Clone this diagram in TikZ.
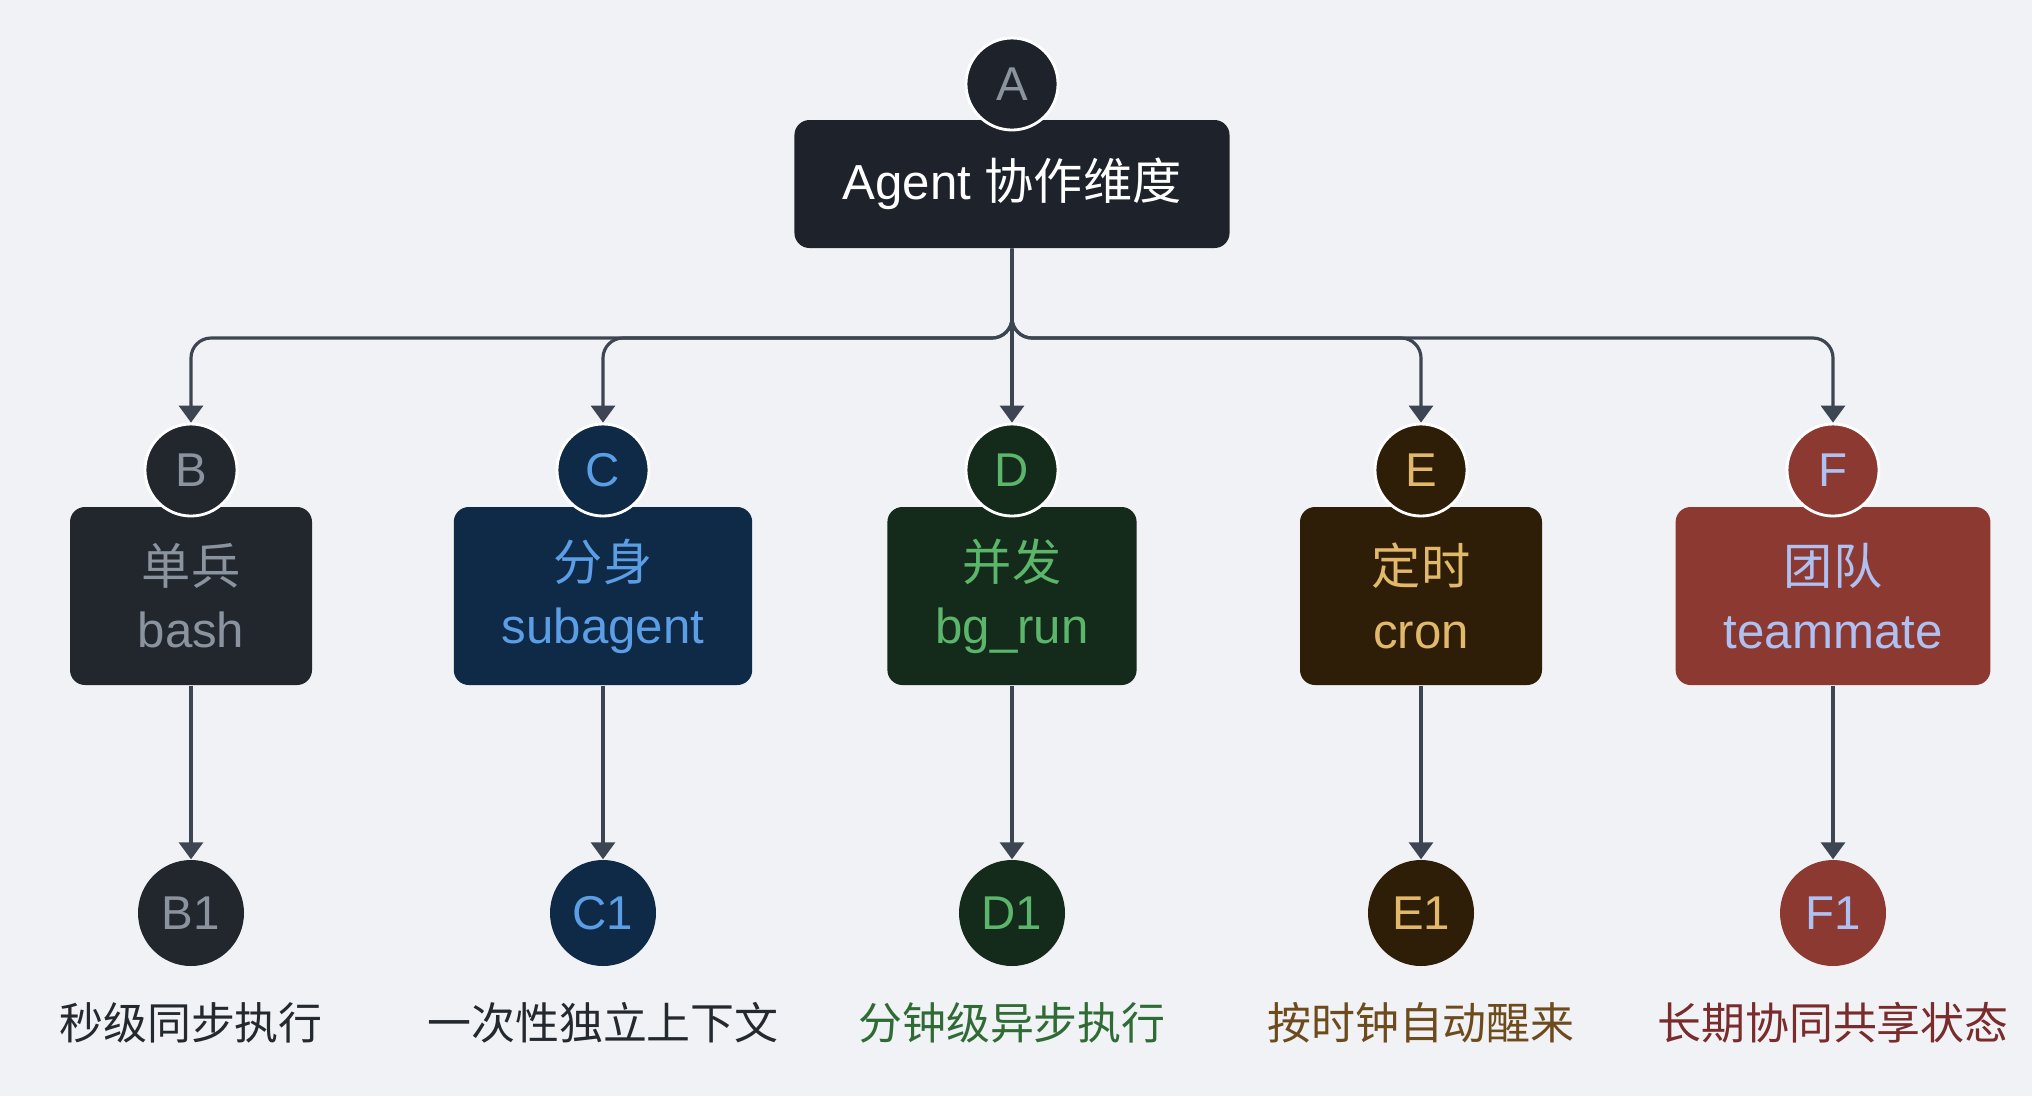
\documentclass[tikz,border=0pt]{standalone}
\usepackage{fontspec}
\setmainfont{Liberation Sans}
\newfontfamily\cjk{Noto Sans CJK SC}
\usepackage{tikz}
\usetikzlibrary{arrows.meta,positioning,calc}
\definecolor{pagebg}{HTML}{F0F2F5}
\definecolor{linkgray}{HTML}{3E4552}
\definecolor{rootfill}{HTML}{1E232B}
\definecolor{bashfill}{HTML}{22272E}
\definecolor{bashtext}{HTML}{8B949E}
\definecolor{subfill}{HTML}{0F2A47}
\definecolor{subtext}{HTML}{5C9EE6}
\definecolor{bgfill}{HTML}{142A1A}
\definecolor{bgtext}{HTML}{5BB56A}
\definecolor{cronfill}{HTML}{2E1D07}
\definecolor{crontext}{HTML}{E2B86A}
\definecolor{teamfill}{HTML}{8C3A31}
\definecolor{teamtext}{HTML}{AFC0F2}
\definecolor{notedark}{HTML}{24292F}
\definecolor{notegreen}{HTML}{2F6B35}
\definecolor{notebrown}{HTML}{6E4B1C}
\definecolor{notered}{HTML}{7A2B2B}

\begin{document}
\begin{tikzpicture}[
    x=1cm,
    y=1cm,
    mode/.style={rectangle, rounded corners=1.5mm, minimum width=2.42cm, minimum height=1.78cm, inner xsep=0.48cm, align=center, font=\fontsize{14}{18}\selectfont},
    badge/.style={circle, minimum size=0.92cm, inner sep=0pt, draw=white, line width=0.8pt, font=\fontsize{13.5}{16}\selectfont},
    outcome/.style={circle, minimum size=1.06cm, inner sep=0pt, font=\fontsize{13.5}{16}\selectfont},
    note/.style={font=\cjk\fontsize{12.5}{15}\selectfont},
    link/.style={-{Triangle[length=1.7mm, width=2.4mm]}, line width=0.9pt, draw=linkgray}
  ]
    \fill[pagebg] (0,0) rectangle (20.32,-10.96);

    % root
    \node[mode, fill=rootfill, text=white, minimum width=4.3cm, minimum height=1.28cm] (root) at (10.12,-1.84) {Agent {\cjk 协作维度}};
    \node[badge, fill=rootfill, text=bashtext] (rootid) at (10.12,-0.84) {A};
    \coordinate (bar) at (10.12,-3.38);

    % five modes
    \node[mode, fill=bashfill, text=bashtext] (bash) at (1.91,-5.96) {{\cjk 单兵}\\bash};
    \node[mode, fill=subfill, text=subtext] (sub) at (6.03,-5.96) {{\cjk 分身}\\subagent};
    \node[mode, fill=bgfill, text=bgtext] (bgrun) at (10.12,-5.96) {{\cjk 并发}\\bg\_run};
    \node[mode, fill=cronfill, text=crontext] (cron) at (14.21,-5.96) {{\cjk 定时}\\cron};
    \node[mode, fill=teamfill, text=teamtext] (team) at (18.33,-5.96) {{\cjk 团队}\\teammate};

    \node[badge, fill=bashfill, text=bashtext] (bashid) at (1.91,-4.70) {B};
    \node[badge, fill=subfill, text=subtext] (subid) at (6.03,-4.70) {C};
    \node[badge, fill=bgfill, text=bgtext] (bgrunid) at (10.12,-4.70) {D};
    \node[badge, fill=cronfill, text=crontext] (cronid) at (14.21,-4.70) {E};
    \node[badge, fill=teamfill, text=teamtext] (teamid) at (18.33,-4.70) {F};

    % outcomes
    \node[outcome, fill=bashfill, text=bashtext] (bashout) at (1.91,-9.13) {B1};
    \node[outcome, fill=subfill, text=subtext] (subout) at (6.03,-9.13) {C1};
    \node[outcome, fill=bgfill, text=bgtext] (bgrunout) at (10.12,-9.13) {D1};
    \node[outcome, fill=cronfill, text=crontext] (cronout) at (14.21,-9.13) {E1};
    \node[outcome, fill=teamfill, text=teamtext] (teamout) at (18.33,-9.13) {F1};

    \node[note, text=notedark] (bashnote) at (1.91,-10.23) {秒级同步执行};
    \node[note, text=notedark] (subnote) at (6.03,-10.23) {一次性独立上下文};
    \node[note, text=notegreen] (bgrunnote) at (10.12,-10.23) {分钟级异步执行};
    \node[note, text=notebrown] (cronnote) at (14.21,-10.23) {按时钟自动醒来};
    \node[note, text=notered] (teamnote) at (18.33,-10.23) {长期协同共享状态};

    \draw[link, rounded corners=2mm] (root.south) -- (bar) -| (bashid.north);
    \draw[link, rounded corners=2mm] (root.south) -- (bar) -| (subid.north);
    \draw[link] (root.south) -- (bgrunid.north);
    \draw[link, rounded corners=2mm] (root.south) -- (bar) -| (cronid.north);
    \draw[link, rounded corners=2mm] (root.south) -- (bar) -| (teamid.north);

    \draw[link] (bash.south) -- (bashout.north);
    \draw[link] (sub.south) -- (subout.north);
    \draw[link] (bgrun.south) -- (bgrunout.north);
    \draw[link] (cron.south) -- (cronout.north);
    \draw[link] (team.south) -- (teamout.north);
  \end{tikzpicture}
\end{document}
